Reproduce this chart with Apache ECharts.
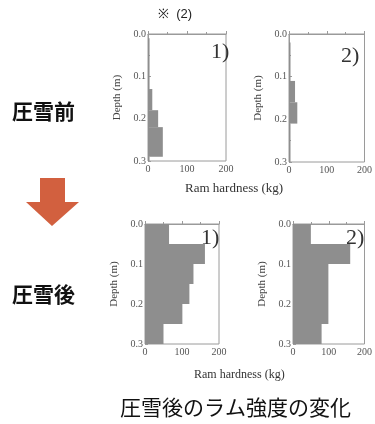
<!DOCTYPE html>
<html><head><meta charset="utf-8">
<script src="https://cdn.jsdelivr.net/npm/echarts@6/dist/echarts.min.js"></script>
<style>html,body{margin:0;padding:0;background:#fff}#c{width:375px;height:424px}</style>
</head><body><div id="c"></div>
<script>
// Tick values
const xTicks = [0, 100, 200];
const yTicks = [0, 0.1, 0.2, 0.3];
// Ram hardness profiles: [top depth (m), bottom depth (m), hardness (kg)]
const before1 = [[0.01,0.13,4],[0.13,0.18,11],[0.18,0.22,26],[0.22,0.29,38],[0.29,0.30,4]];
const before2 = [[0.02,0.11,4],[0.11,0.16,16],[0.16,0.21,22],[0.21,0.30,4]];
const after1  = [[0,0.05,65],[0.05,0.10,162],[0.10,0.15,131],[0.15,0.20,120],[0.20,0.25,101],[0.25,0.30,50]];
const after2  = [[0,0.05,50],[0.05,0.10,160],[0.10,0.25,99],[0.25,0.30,80]];
const panelLabels = ['1)', '2)', '1)', '2)'];
const rowLabels = ['圧雪前', '圧雪後'];
const xName = 'Ram hardness (kg)';
const yName = 'Depth (m)';
const note = '※  (2)';
const caption = '圧雪後のラム強度の変化';

const profiles = [before1, before2, after1, after2];
const grids = [
  {left:148, top:34, width:78, height:127},
  {left:289, top:34, width:77, height:128},
  {left:145, top:224, width:74, height:120},
  {left:293, top:224, width:74, height:120}
];
const AX = '#9a9a9a', LAB = '#555', FILL = '#8e8e8e';
const serif = 'Liberation Serif';

function renderSeg(params, api){
  const p0 = api.coord([0, api.value(0)]);
  const p1 = api.coord([api.value(2), api.value(1)]);
  return {type:'rect', shape:{x:p0[0], y:p0[1], width:p1[0]-p0[0], height:p1[1]-p0[1]},
          style:{fill:FILL}};
}

const option = {
  animation:false,
  backgroundColor:'#fff',
  grid: grids.map(g => Object.assign({show:true, borderColor:AX, borderWidth:1, backgroundColor:'transparent'}, g)),
  xAxis: grids.map((g,i) => ({
    type:'value', gridIndex:i, min:xTicks[0], max:xTicks[xTicks.length-1], interval:xTicks[1]-xTicks[0],
    axisLine:{show:true, lineStyle:{color:AX}},
    axisTick:{show:true, inside:true, length:3, lineStyle:{color:AX}},
    minorTick:{show:true, splitNumber:2, length:2, lineStyle:{color:AX}},
    splitLine:{show:false},
    axisLabel:{fontFamily:serif, fontSize:10, color:LAB, margin:3}
  })),
  yAxis: grids.map((g,i) => ({
    type:'value', gridIndex:i, min:yTicks[0], max:yTicks[yTicks.length-1], interval:0.1, inverse:true,
    axisLine:{show:true, lineStyle:{color:AX}},
    axisTick:{show:true, inside:true, length:3, lineStyle:{color:AX}},
    minorTick:{show:true, splitNumber:2, length:2, lineStyle:{color:AX}},
    splitLine:{show:false},
    axisLabel:{fontFamily:serif, fontSize:10, color:LAB, margin:2, formatter:v => v.toFixed(1)},
    name:yName, nameLocation:'middle', nameGap:25, nameRotate:90,
    nameTextStyle:{fontFamily:serif, fontSize:11, color:'#444'}
  })),
  series: profiles.map((d,i) => ({
    type:'custom', xAxisIndex:i, yAxisIndex:i, data:d,
    encode:{x:2, y:[0,1]}, renderItem:renderSeg, silent:true
  })),
  graphic: [
    {type:'text', left:158, top:8, style:{text:note, font:'13px "Liberation Sans"', fill:'#222'}},
    {type:'text', left:211, top:41, style:{text:panelLabels[0], font:'22px "Liberation Serif"', fill:'#333'}},
    {type:'text', left:341, top:45, style:{text:panelLabels[1], font:'22px "Liberation Serif"', fill:'#333'}},
    {type:'text', left:201, top:227, style:{text:panelLabels[2], font:'22px "Liberation Serif"', fill:'#333'}},
    {type:'text', left:346, top:227, style:{text:panelLabels[3], font:'22px "Liberation Serif"', fill:'#333'}},
    {type:'text', left:185, top:182, style:{text:xName, font:'13px "Liberation Serif"', fill:'#333'}},
    {type:'text', left:194, top:369, style:{text:xName, font:'12px "Liberation Serif"', fill:'#333'}},
    {type:'text', left:12, top:101, style:{text:rowLabels[0], font:'bold 21px "Noto Sans CJK JP"', fill:'#111'}},
    {type:'text', left:12, top:284, style:{text:rowLabels[1], font:'bold 21px "Noto Sans CJK JP"', fill:'#111'}},
    {type:'text', left:120, top:397, style:{text:caption, font:'21px "Noto Sans CJK JP"', fill:'#111'}},
    {type:'polygon', shape:{points:[[40,178],[65,178],[65,202],[79,202],[52,226],[26,202],[40,202]]},
     style:{fill:'#d2603f'}}
  ]
};
const chart = echarts.init(document.getElementById('c'), null, {renderer:'canvas'});
chart.setOption(option);
</script>
</body></html>
